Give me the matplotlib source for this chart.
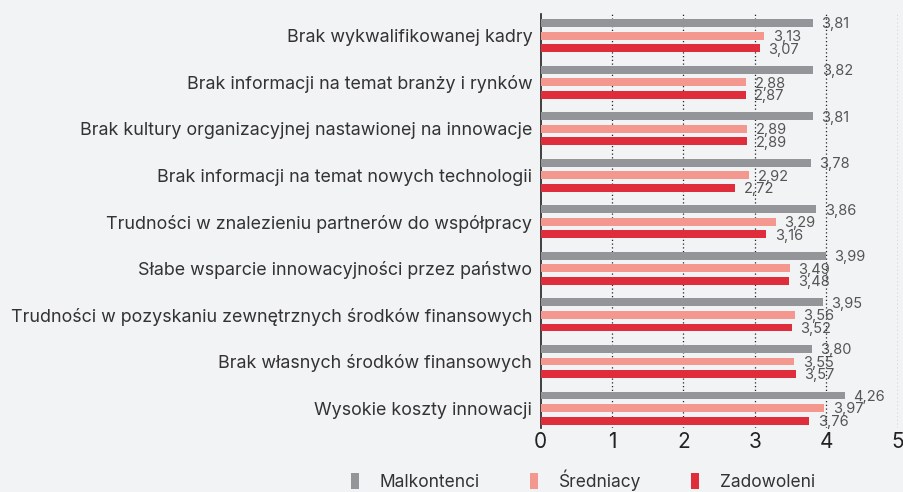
import numpy as np
import matplotlib.pyplot as plt
from matplotlib.patches import Patch

plt.rcParams['font.family'] = ['Inter', 'DejaVu Sans']

# categories top to bottom
categories = [
    'Brak wykwalifikowanej kadry',
    'Brak informacji na temat branży i rynków',
    'Brak kultury organizacyjnej nastawionej na innowacje',
    'Brak informacji na temat nowych technologii',
    'Trudności w znalezieniu partnerów do współpracy',
    'Słabe wsparcie innowacyjności przez państwo',
    'Trudności w pozyskaniu zewnętrznych środków finansowych',
    'Brak własnych środków finansowych',
    'Wysokie koszty innowacji',
]
malkontenci = [3.81, 3.82, 3.81, 3.78, 3.86, 3.99, 3.95, 3.80, 4.26]
sredniacy = [3.13, 2.88, 2.89, 2.92, 3.29, 3.49, 3.56, 3.55, 3.97]
zadowoleni = [3.07, 2.87, 2.89, 2.72, 3.16, 3.48, 3.52, 3.57, 3.76]
series_names = ['Malkontenci', 'Średniacy', 'Zadowoleni']
colors = ['#939598', '#f4978f', '#e02d3c']

bg = '#f2f3f5'
fig = plt.figure(figsize=(9.04, 4.92), dpi=100, facecolor=bg)
ax = fig.add_axes([0.598, 0.13, 0.395, 0.842], facecolor=bg)

y = np.arange(len(categories))
offs = [-0.27, 0.0, 0.27]
for vals, off, col in zip([malkontenci, sredniacy, zadowoleni], offs, colors):
    ax.barh(y + off, vals, height=0.17, color=col, zorder=3)
    for yi, v in zip(y, vals):
        ax.text(v + 0.12, yi + off + 0.03, f'{v:.2f}'.replace('.', ','),
                va='center', ha='left', fontsize=10.5, color='#555555', zorder=4)

ax.set_xlim(0, 5)
ax.set_ylim(8.43, -0.47)
ax.set_yticks(y)
ax.set_yticklabels(categories, fontsize=12.9, color='#333333')
ax.set_xticks(range(6))
ax.tick_params(axis='x', length=0, labelsize=15, colors='#222222', pad=3)
ax.tick_params(axis='y', length=0, pad=6)
for s in ['top', 'right', 'bottom']:
    ax.spines[s].set_visible(False)
ax.spines['left'].set_color('#222222')
ax.spines['left'].set_linewidth(1.2)
for xv in range(1, 6):
    ax.axvline(xv, color='#222222', linestyle=(0, (1, 2)), linewidth=0.9, zorder=1)

handles = [Patch(facecolor=c, edgecolor='none') for c in colors]
fig.legend(handles, series_names, loc='center', bbox_to_anchor=(0.645, 0.024),
           ncol=3, frameon=False, fontsize=12.5, handlelength=0.45, handleheight=1.0,
           handletextpad=1.2, columnspacing=2.9, labelcolor='#333333')

fig.savefig('out.png', dpi=100, facecolor=bg)
